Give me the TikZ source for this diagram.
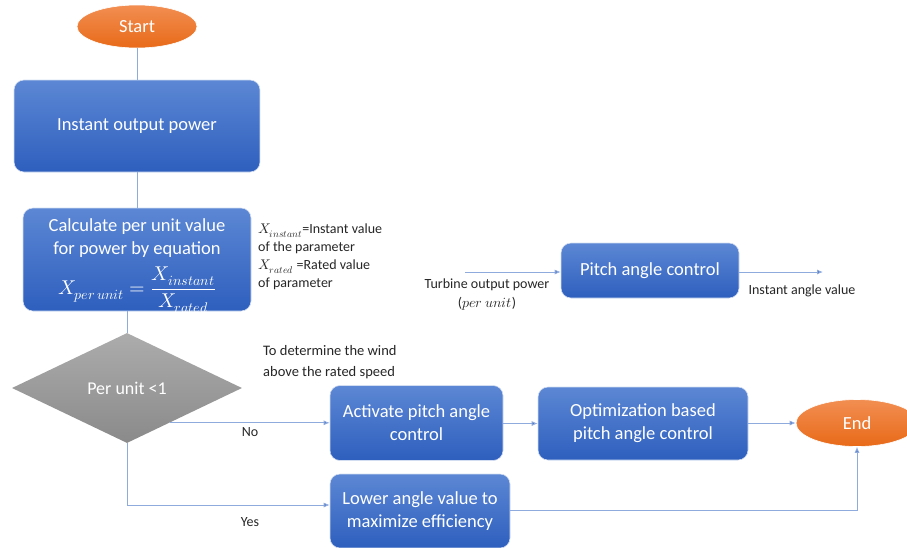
\documentclass[tikz,border=0pt]{standalone}
\usepackage{fontspec}
\usepackage{unicode-math}
\setmainfont{Carlito}
\setmathfont{Latin Modern Math}
\usetikzlibrary{shapes.geometric,arrows.meta,calc}

\definecolor{boxtop}{RGB}{92,135,212}
\definecolor{boxbot}{RGB}{46,95,190}
\definecolor{orgtop}{RGB}{242,142,82}
\definecolor{orgbot}{RGB}{232,106,24}
\definecolor{graytop}{RGB}{172,172,172}
\definecolor{graybot}{RGB}{138,138,138}
\definecolor{linkcol}{RGB}{143,170,220}
\definecolor{tipcol}{RGB}{68,114,196}

\tikzset{
  procbox/.style={rectangle, rounded corners=10pt, draw=linkcol!40, line width=0.6pt,
    top color=boxtop, bottom color=boxbot, text=white, align=center,
    font=\fontsize{18.5}{23}\selectfont, inner sep=0pt},
  boxtext/.style={text=white, align=center, font=\fontsize{18.5}{23}\selectfont, inner sep=0pt},
  terminal/.style={ellipse, draw=white, line width=0.6pt, top color=orgtop, bottom color=orgbot,
    text=white, font=\fontsize{18.5}{23}\selectfont, inner sep=0pt},
  decision/.style={diamond, top color=graytop, bottom color=graybot, text=white,
    font=\fontsize{18}{22}\selectfont, inner sep=0pt},
  note/.style={font=\fontsize{14}{18}\selectfont, text=black!85, inner sep=0pt},
  link/.style={draw=linkcol, line width=0.9pt},
  arrow/.style={link, -{Latex[length=6pt,width=5pt,fill=tipcol]}}
}

\begin{document}
\begin{tikzpicture}[x=1pt, y=-1pt]
  \useasboundingbox (0,0) rectangle (907,547);

  % main column
  \node[terminal, minimum width=120pt, minimum height=43pt] (start) at (137,26.5) {Start};
  \node[procbox, minimum width=246pt, minimum height=92pt] (inst) at (137,126) {Instant output power};
  \node[procbox, minimum width=228pt, minimum height=103pt] (calc) at (137,259.5) {};
  \node[boxtext] (calctext) at (137,266)
    {Calculate per unit value\\for power by equation\\[8pt]
     {\fontsize{20}{24}\selectfont$\displaystyle X_{per\,unit}=\frac{X_{instant}}{X_{rated}}$}};
  \node[decision, minimum width=230pt, minimum height=110pt] (dia) at (127,388) {Per unit <1};

  % branches
  \node[procbox, minimum width=173pt, minimum height=75pt] (act) at (416.5,423) {Activate pitch angle\\control};
  \node[procbox, minimum width=210pt, minimum height=73pt] (opt) at (643,423.5) {Optimization based\\pitch angle control};
  \node[procbox, minimum width=180pt, minimum height=74pt] (low) at (420,511) {Lower angle value to\\maximize efficiency};
  \node[terminal, minimum width=122pt, minimum height=47pt] (end) at (857,423) {End};

  % pitch block
  \node[procbox, minimum width=178pt, minimum height=55pt] (pitch) at (650,270.5) {Pitch angle control};
  \coordinate (pin) at (465,272);
  \coordinate (pout) at (823,272);

  % notes
  \node[note, anchor=west, align=left] (defs) at (258,257)
    {$X_{instant}$=Instant value\\of the parameter\\$X_{rated}$ =Rated value\\of parameter};
  \node[note, anchor=west, align=left, font=\fontsize{14.5}{21}\selectfont] (wind) at (263,362.5)
    {To determine the wind\\above the rated speed};
  \node[note, align=center, font=\fontsize{14}{19}\selectfont] (tin) at (487,294)
    {Turbine output power\\($per\ unit$)};
  \node[note] (tout) at (802,291) {Instant angle value};
  \node[note] (no) at (250,432) {No};
  \node[note] (yes) at (250,522) {Yes};

  % connectors
  \draw[link] (start) -- (inst);
  \draw[link] (inst) -- (calc);
  \draw[link] (calc.south -| dia.north) -- (dia.north);
  \coordinate (noout) at ($(dia.east)!0.63!(dia.south)$);
  \draw[arrow] (noout) -- (noout -| act.west);
  \draw[arrow] ([yshift=-0.5pt]act.east) -- ([yshift=-0.5pt]act.east -| opt.west);
  \draw[arrow] (opt.east |- end) -- (end.west);
  \draw[arrow] (dia.south) |- ([yshift=6pt]low.west);
  \draw[arrow] ([yshift=1pt]low.east) -| (end.south);
  \draw[arrow] (pin) -- (pin -| pitch.west);
  \draw[arrow] (pitch.east |- pout) -- (pout);
\end{tikzpicture}
\end{document}
